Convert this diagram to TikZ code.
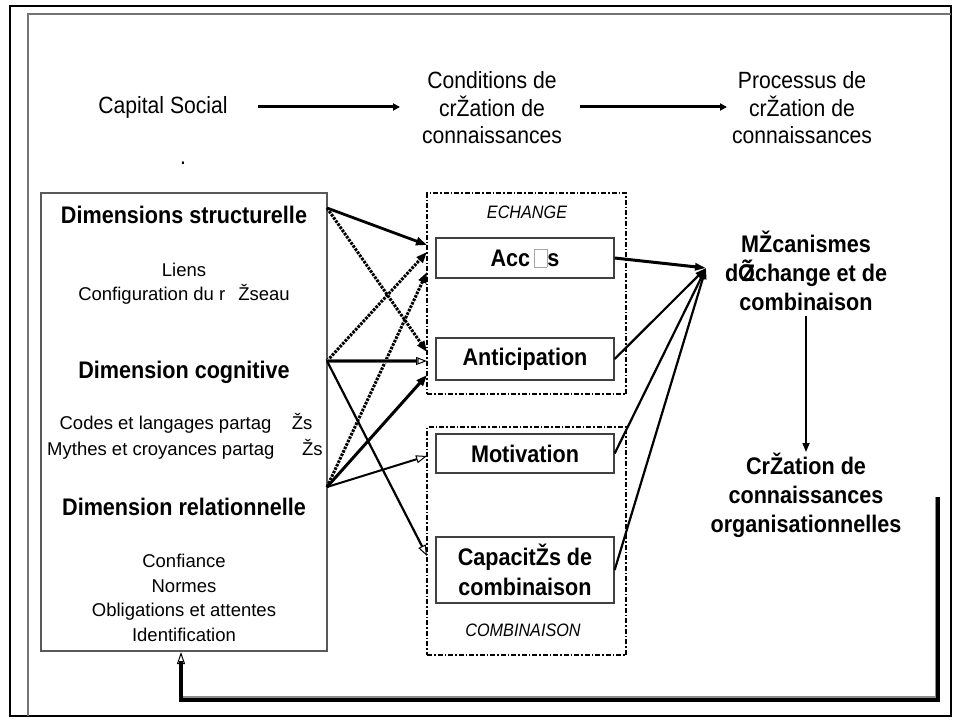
\documentclass[tikz,border=0pt]{standalone}
\usepackage{fontspec}
\setmainfont{Liberation Sans}
\newfontfamily\condfont{Liberation Sans}[FakeStretch=0.9]
\usetikzlibrary{arrows.meta,calc}
\newcommand{\fsz}[2]{\fontsize{#1}{#2}\selectfont}
\newcommand{\missbox}{{\setlength\fboxsep{0pt}\setlength\fboxrule{0.6pt}\fcolorbox{gray!70}{white}{\rule{0pt}{0.72em}\hspace{0.5em}}}}
\begin{document}
\begin{tikzpicture}[x=1pt,y=-1pt,
  big/.style={font=\condfont\fsz{23.5}{27.5}, align=center, inner sep=0pt},
  bigb/.style={font=\condfont\fsz{24}{29}\bfseries, align=center, inner sep=0pt},
  small/.style={font=\fsz{18.5}{24.5}, align=center, inner sep=0pt},
  ital/.style={font=\condfont\fsz{18}{20}\itshape, inner sep=0pt},
  inbox/.style={draw=black!75, line width=1.3pt, minimum width=178pt, inner sep=0pt, align=center, font=\condfont\fsz{24}{30}\bfseries},
  grp/.style={draw=black, line width=1.2pt, dash pattern=on 5pt off 2pt on 1.5pt off 2pt},
  toparr/.style={line width=3pt, -{Triangle[length=7pt,width=7pt]}},
  solidarr/.style={line width=2.4pt, -{Triangle[length=11pt,width=8pt]}},
  openarr/.style={line width=1.8pt, -{Triangle[open,length=11pt,width=8pt,line width=1pt]}},
  hatcharr/.style={line width=3pt, dash pattern=on 2.6pt off 1.2pt, -{Triangle[length=11pt,width=8pt]}},
  convarr/.style={line width=2.2pt, -{Triangle[length=11pt,width=7pt]}},
  fbline/.style={line width=3.2pt},
]
\useasboundingbox (0,0) rectangle (957,722);
% frames
\draw[line width=2pt] (10,6) rectangle (951,716);
\draw[black!55, line width=1.2pt] (28,716) -- (28,14) -- (951,14);

% top row
\node[big] (cap) at (163,107) {Capital Social};
\node[big] (cond) at (492,108) {Conditions de\\crŽation de\\connaissances};
\node[big] (proc) at (802,108) {Processus de\\crŽation de\\connaissances};
\node[big] (dot) at (183,163) {.};
\coordinate (a1s) at (258,107);
\coordinate (a1e) at (400,107);
\coordinate (a2s) at (580,107);
\coordinate (a2e) at (727,107);
\draw[toparr] (a1s) -- (a1e);
\draw[toparr] (a2s) -- (a2e);

% left box
\node[draw=black!65, line width=1.2pt, minimum width=286pt, minimum height=458pt, inner sep=0pt] (leftbox) at (184,422) {};
\node[bigb] (ds) at (184,215) {Dimensions structurelle};
\node[small] (liens) at (184,270) {Liens};
\node[small] (conf) at (184,294) {Configuration du r\hspace{0.7em}Žseau};
\node[bigb] (dc) at (184,372) {Dimension cognitive};
\node[small] (codes) at (186,423) {Codes et langages partag\hspace{1.1em}Žs};
\node[small] (myth) at (185,449) {Mythes et croyances partag\hspace{1.5em}Žs};
\node[bigb] (dr) at (184,507) {Dimension relationnelle};
\node[small] (rel) at (184,598) {Confiance\\Normes\\Obligations et attentes\\Identification};

% group boxes
\node[grp, minimum width=199pt, minimum height=201pt, inner sep=0pt] (ech) at (526.5,293.5) {};
\node[grp, minimum width=199pt, minimum height=228pt, inner sep=0pt] (comb) at (526.5,541) {};
\node[ital] (echt) at (527,212) {ECHANGE};
\node[ital] (combt) at (523,630) {COMBINAISON};

% inner boxes
\node[inbox, minimum height=40pt] (acces) at (525,258) {Acc\,\missbox s};
\node[inbox, minimum height=42pt] (antic) at (525,359) {Anticipation};
\node[inbox, minimum height=39pt] (motiv) at (525,453.5) {Motivation};
\node[inbox, minimum height=66pt] (capac) at (525,570) {CapacitŽs de\\combinaison};

% right side
\node[bigb] (meca) at (806,271) {MŽcanismes\\dÕ\kern-0.55em Žchange et de\\combinaison};
\node[bigb] (creat) at (806,495) {CrŽation de\\connaissances\\organisationnelles};

% sources and targets
\coordinate (s1) at (327,208);
\coordinate (s2) at (327,361);
\coordinate (s3) at (327,487);
\coordinate (t1) at (427,245);
\coordinate (t2) at (427,252);
\coordinate (t3) at (427,272);
\coordinate (t4) at (427,352);
\coordinate (t5) at (427,361);
\coordinate (t6) at (427,375);
\coordinate (t7) at (427,456);
\coordinate (t8) at (427,556);

\draw[solidarr, line width=2.8pt] (s1) -- (t1);
\draw[hatcharr] (s1) -- (t4);
\draw[hatcharr] (s2) -- (t2);
\draw[hatcharr] (s3) -- (t3);
\draw[black!60, line width=3.4pt] (s2) -- ($(t5)+(-8,0)$);
\draw[openarr] (s2) -- (t5);
\draw[solidarr, line width=3pt] (s3) -- (t6);
\draw[openarr, line width=2pt] (s3) -- (t7);
\draw[openarr, line width=2.2pt] (s2) -- (t8);

% convergence
\coordinate (P) at (706,268);
\draw[convarr, line width=3pt] (acces.east) -- (P);
\draw[convarr] (antic.east) -- (P);
\draw[convarr] (motiv.east) -- (P);
\draw[convarr] (capac.east) -- (P);

% meca -> creat
\coordinate (m1) at (806,316);
\coordinate (c1) at (806,452);
\draw[line width=1.6pt, -{Triangle[length=9pt,width=7pt]}] (m1) -- (c1);

% feedback
\coordinate (f0) at (938,497);
\coordinate (f2) at (181,700);
\coordinate (f3) at (181,652);
\draw[black!45, line width=1.4pt] (f2) ++(0,-3) -- (936,697) -- (936,497);
\draw[fbline] (f0) |- (f2) -- ($(f3)+(0,9)$);
\draw[line width=1.2pt, -{Triangle[open,length=12pt,width=8pt,line width=1pt]}] ($(f3)+(0,10)$) -- (f3);
\end{tikzpicture}
\end{document}
